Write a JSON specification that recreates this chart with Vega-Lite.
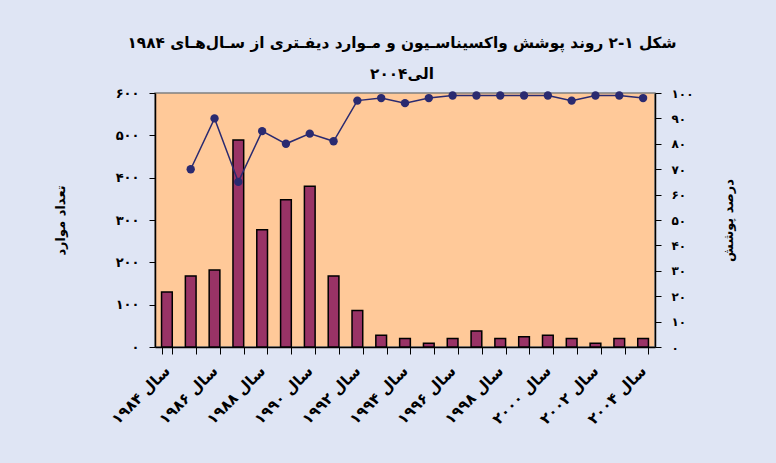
{
  "$schema": "https://vega.github.io/schema/vega-lite/v6.json",
  "width": 500,
  "height": 254,
  "autosize": "none",
  "padding": {"left": 155, "top": 93, "right": 121, "bottom": 116},
  "background": "#DFE5F4",
  "config": {
    "font": "DejaVu Sans",
    "view": {"fill": "#FFC999", "stroke": "#808080", "strokeWidth": 1.5},
    "axis": {"labelFont": "DejaVu Sans", "titleFont": "DejaVu Sans", "labelFontWeight": "bold", "titleFontWeight": "bold", "labelColor": "#000", "titleColor": "#000", "domainColor": "#000", "tickColor": "#000", "grid": false}
  },
  "title": {
    "text": ["شکل ۱-۲ روند پوشش واکسیناسـیون و مـوارد دیفـتری از سـال‌هـای ۱۹۸۴", "الی۲۰۰۴"],
    "font": "DejaVu Sans",
    "fontSize": 15.3,
    "fontWeight": "bold",
    "lineHeight": 31,
    "anchor": "middle",
    "dx": -3,
    "offset": 5,
    "color": "#000"
  },
  "data": {
    "values": [
      {"year": 1984, "cases": 130, "coverage": null},
      {"year": 1985, "cases": 168, "coverage": 70},
      {"year": 1986, "cases": 182, "coverage": 90},
      {"year": 1987, "cases": 489, "coverage": 65},
      {"year": 1988, "cases": 277, "coverage": 85},
      {"year": 1989, "cases": 348, "coverage": 80},
      {"year": 1990, "cases": 380, "coverage": 84},
      {"year": 1991, "cases": 168, "coverage": 81},
      {"year": 1992, "cases": 86, "coverage": 97},
      {"year": 1993, "cases": 28, "coverage": 98},
      {"year": 1994, "cases": 20, "coverage": 96},
      {"year": 1995, "cases": 9, "coverage": 98},
      {"year": 1996, "cases": 20, "coverage": 99},
      {"year": 1997, "cases": 38, "coverage": 99},
      {"year": 1998, "cases": 20, "coverage": 99},
      {"year": 1999, "cases": 24, "coverage": 99},
      {"year": 2000, "cases": 28, "coverage": 99},
      {"year": 2001, "cases": 20, "coverage": 97},
      {"year": 2002, "cases": 9, "coverage": 99},
      {"year": 2003, "cases": 20, "coverage": 99},
      {"year": 2004, "cases": 20, "coverage": 98}
    ]
  },
  "encoding": {
    "x": {
      "field": "year",
      "type": "ordinal",
      "scale": {"paddingInner": 0.55},
      "axis": {
        "title": null,
        "labelAngle": -45,
        "labelAlign": "right",
        "labelBaseline": "middle",
        "labelFontSize": 15,
        "labelPadding": 14,
        "tickBand": "extent",
        "tickSize": 7,
        "domainWidth": 1.5,
        "labelExpr": "datum.value % 2 == 0 ? 'سال ' + replace(replace(replace(replace(replace(replace(replace(replace(replace(replace(datum.label,regexp('0','g'),'۰'),regexp('1','g'),'۱'),regexp('2','g'),'۲'),regexp('3','g'),'۳'),regexp('4','g'),'۴'),regexp('5','g'),'۵'),regexp('6','g'),'۶'),regexp('7','g'),'۷'),regexp('8','g'),'۸'),regexp('9','g'),'۹') : ''"
      }
    }
  },
  "layer": [
    {
      "mark": {"type": "bar", "color": "#993366", "stroke": "#000", "strokeWidth": 1.5},
      "encoding": {
        "y": {
          "field": "cases",
          "type": "quantitative",
          "scale": {"domain": [0, 600], "nice": false},
          "axis": {
            "title": "تعداد موارد",
            "titleFontSize": 13,
            "titlePadding": 48,
            "values": [0, 100, 200, 300, 400, 500, 600],
            "labelFontSize": 13,
            "labelPadding": 10,
            "tickSize": 6,
            "domainWidth": 1.5,
            "labelExpr": "replace(replace(replace(replace(replace(replace(replace(datum.label,regexp('0','g'),'۰'),regexp('1','g'),'۱'),regexp('2','g'),'۲'),regexp('3','g'),'۳'),regexp('4','g'),'۴'),regexp('5','g'),'۵'),regexp('6','g'),'۶')"
          }
        }
      }
    },
    {
      "mark": {"type": "line", "color": "#2A2A70", "strokeWidth": 1.5, "point": {"filled": true, "size": 70, "color": "#2A2A70"}},
      "encoding": {
        "y": {
          "field": "coverage",
          "type": "quantitative",
          "scale": {"domain": [0, 100], "nice": false},
          "axis": {
            "orient": "right",
            "title": "درصد پوشش",
            "titleAngle": -90,
            "titleFontSize": 13,
            "titlePadding": 43,
            "values": [0, 10, 20, 30, 40, 50, 60, 70, 80, 90, 100],
            "labelFontSize": 12,
            "labelPadding": 10,
            "tickSize": 6,
            "domainWidth": 1.5,
            "labelExpr": "replace(replace(replace(replace(replace(replace(replace(replace(replace(replace(datum.label,regexp('0','g'),'۰'),regexp('1','g'),'۱'),regexp('2','g'),'۲'),regexp('3','g'),'۳'),regexp('4','g'),'۴'),regexp('5','g'),'۵'),regexp('6','g'),'۶'),regexp('7','g'),'۷'),regexp('8','g'),'۸'),regexp('9','g'),'۹')"
          }
        }
      }
    }
  ],
  "resolve": {"scale": {"y": "independent"}}
}
